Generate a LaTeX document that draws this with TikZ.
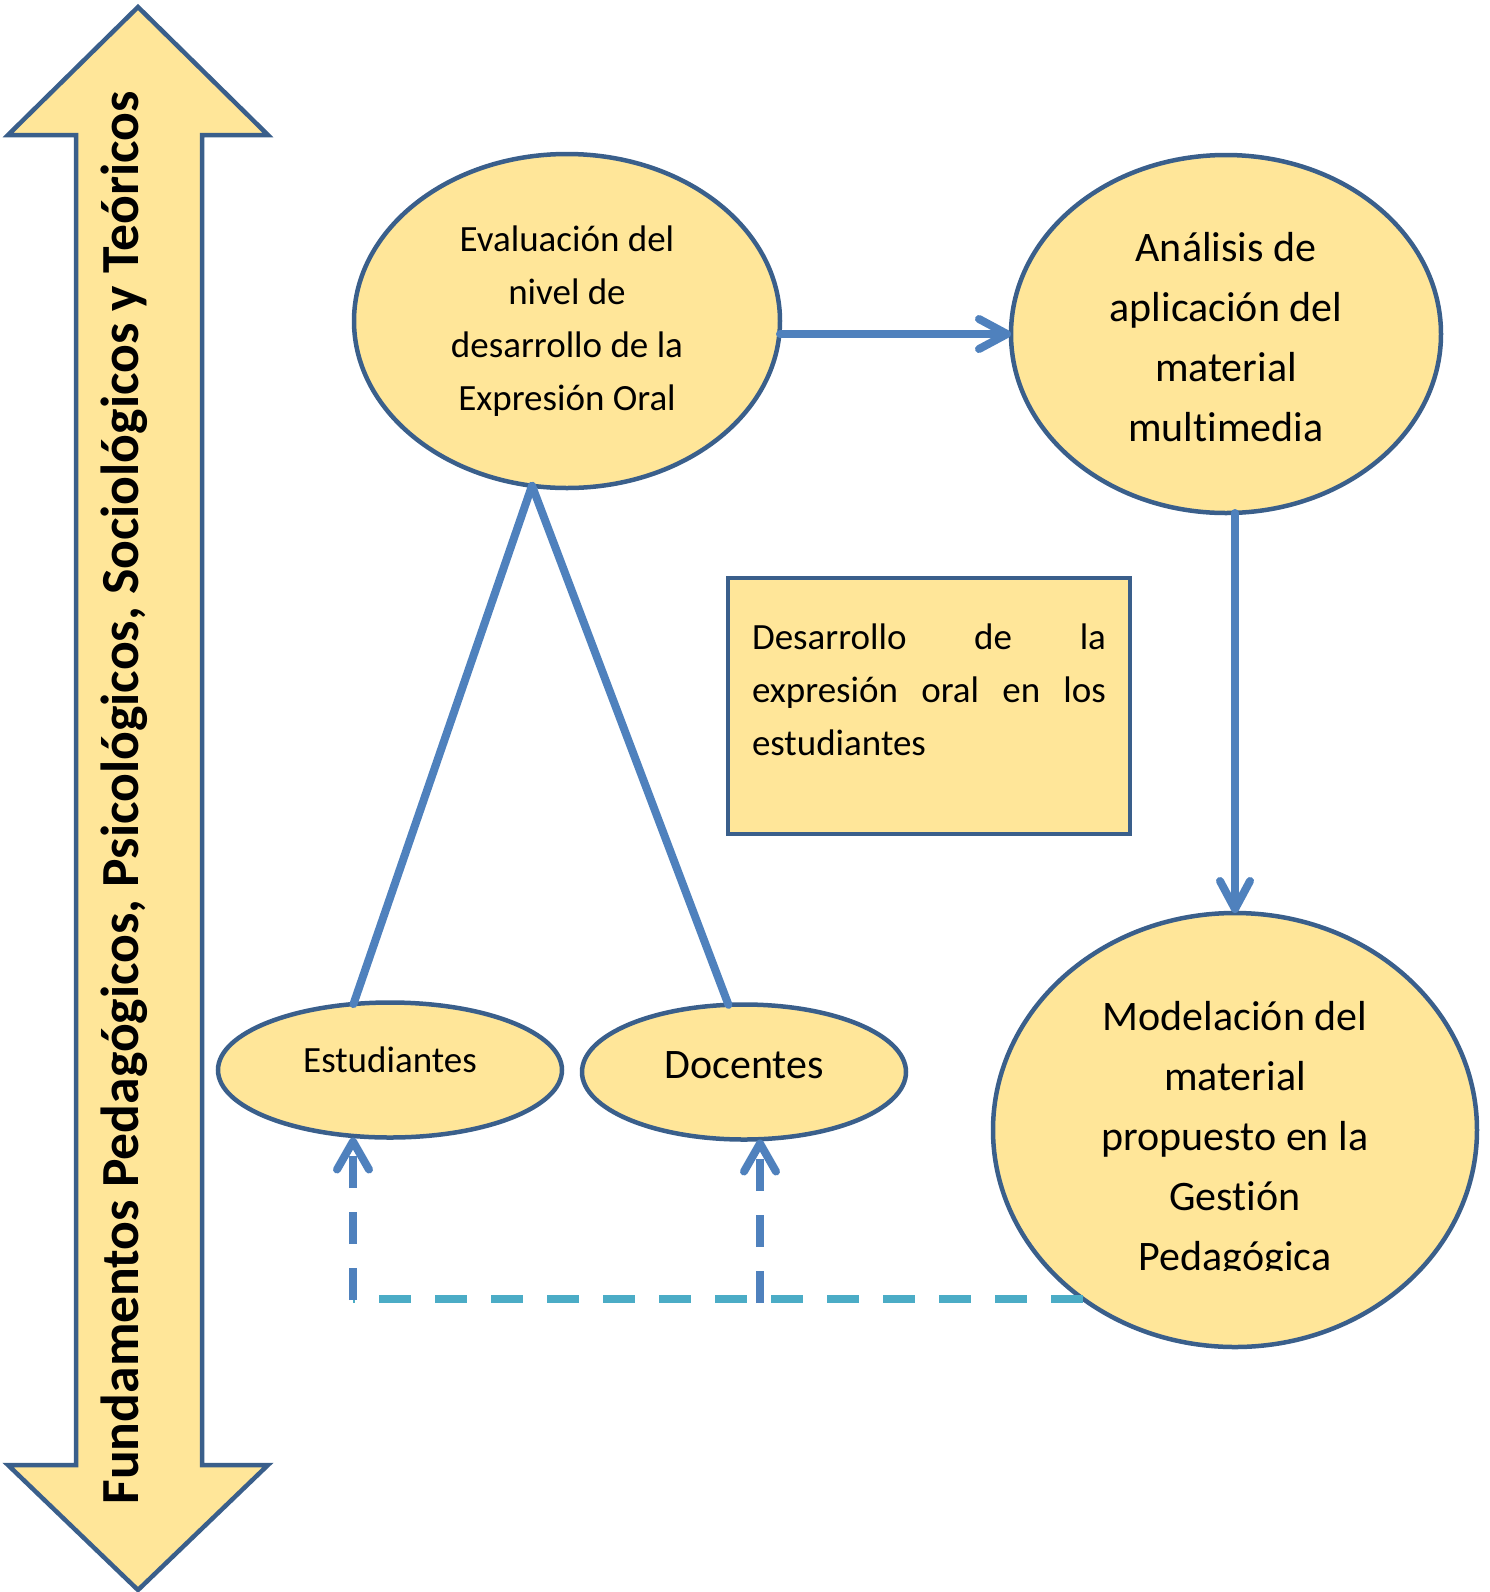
\documentclass[tikz,border=0pt]{standalone}
\usepackage{fontspec}
\setmainfont{Carlito}[Ligatures=NoCommon]
\usetikzlibrary{arrows.meta,shapes.geometric}
\definecolor{fillY}{HTML}{FFE699}
\definecolor{edgeB}{HTML}{3A5F8B}
\definecolor{lineB}{HTML}{4F81BD}
\definecolor{lineC}{HTML}{4BACC6}
\begin{document}
\begin{tikzpicture}[x=0.5pt,y=-0.5pt,
  oval/.style={ellipse, draw=edgeB, fill=fillY, line width=2.25pt, inner sep=0pt, outer sep=0pt, align=center},
  rectbox/.style={rectangle, draw=edgeB, fill=fillY, line width=2.25pt, inner xsep=12pt, inner ysep=5pt, outer sep=0pt},
  conn/.style={draw=lineB, line width=4pt, line cap=round},
  arr/.style={conn, -{Straight Barb[length=14pt,width=15pt,round]}},
  dashv/.style={draw=lineB, line width=4pt, dash pattern=on 16pt off 12pt, -{Straight Barb[length=14pt,width=16pt,round]}},
  dashh/.style={draw=lineC, line width=4pt, dash pattern=on 16pt off 12pt},
  small/.style={font=\fontsize{18.5}{26.5}\selectfont},
  big/.style={font=\fontsize{21}{30}\selectfont},
]
\useasboundingbox (0,0) rectangle (1490,1592);

% big double arrow
\draw[draw=edgeB, fill=fillY, line width=2.25pt, line join=miter]
  (138,7) -- (268,135) -- (202,135) -- (202,1465) -- (268,1465) -- (138,1590)
  -- (8,1465) -- (76,1465) -- (76,135) -- (8,135) -- cycle;
\node[rotate=90, anchor=base, font=\bfseries\fontsize{26.8}{31}\selectfont] (Fund) at (138,798)
  {Fundamentos Pedagógicos, Psicológicos, Sociológicos y Teóricos};

% ellipses
\node[oval, small, minimum width=213pt, minimum height=167pt] (Eval) at (567,321)
  {Evaluación del\\nivel de\\desarrollo de la\\Expresión Oral};
\node[oval, minimum width=215pt, minimum height=179pt,
  label={[big, align=center, yshift=-1.5pt]center:Análisis de\\aplicación del\\material\\multimedia}] (Ana) at (1226,334) {};
\node[oval, minimum width=242pt, minimum height=217pt] (Mod) at (1235,1130) {};
\begin{scope}
  \clip (990,900) rectangle (1480,1270);
  \node[big, align=center] (ModText) at (1235,1140)
    {Modelación del\\material\\propuesto en la\\Gestión\\Pedagógica};
\end{scope}
\node[oval, minimum width=172pt, minimum height=67.5pt,
  label={[small, yshift=5pt]center:Estudiantes}] (Est) at (390,1070) {};
\node[oval, minimum width=162pt, minimum height=67.5pt,
  label={[big, yshift=3.5pt]center:Docentes}] (Doc) at (744,1072) {};

% rectangle
\node[rectbox, small] (Box) at (929,706)
  {\parbox[c][118pt][t]{177pt}{\vspace*{18pt}Desarrollo\hfill de\hfill la\\
   expresión\hfill oral\hfill en\hfill los\\
   estudiantes}};

% connectors
\draw[arr] (Ana.west -| Eval.east) -- (Ana.west);
\draw[arr] (Mod.north |- Ana.south) -- (Mod.north);
\draw[conn] (Eval.258) -- (Est.119);
\draw[conn] (Eval.258) -- (Doc.103);

\coordinate (c1) at (353,1300);
\coordinate (c2) at (760,1303);
\draw[dashh] (Mod.228) -- (Mod.228 -| c1);
\draw[dashv] (c1) -- (c1 |- Est.south);
\draw[dashv] (c2) -- (c2 |- Doc.south);
\end{tikzpicture}
\end{document}
